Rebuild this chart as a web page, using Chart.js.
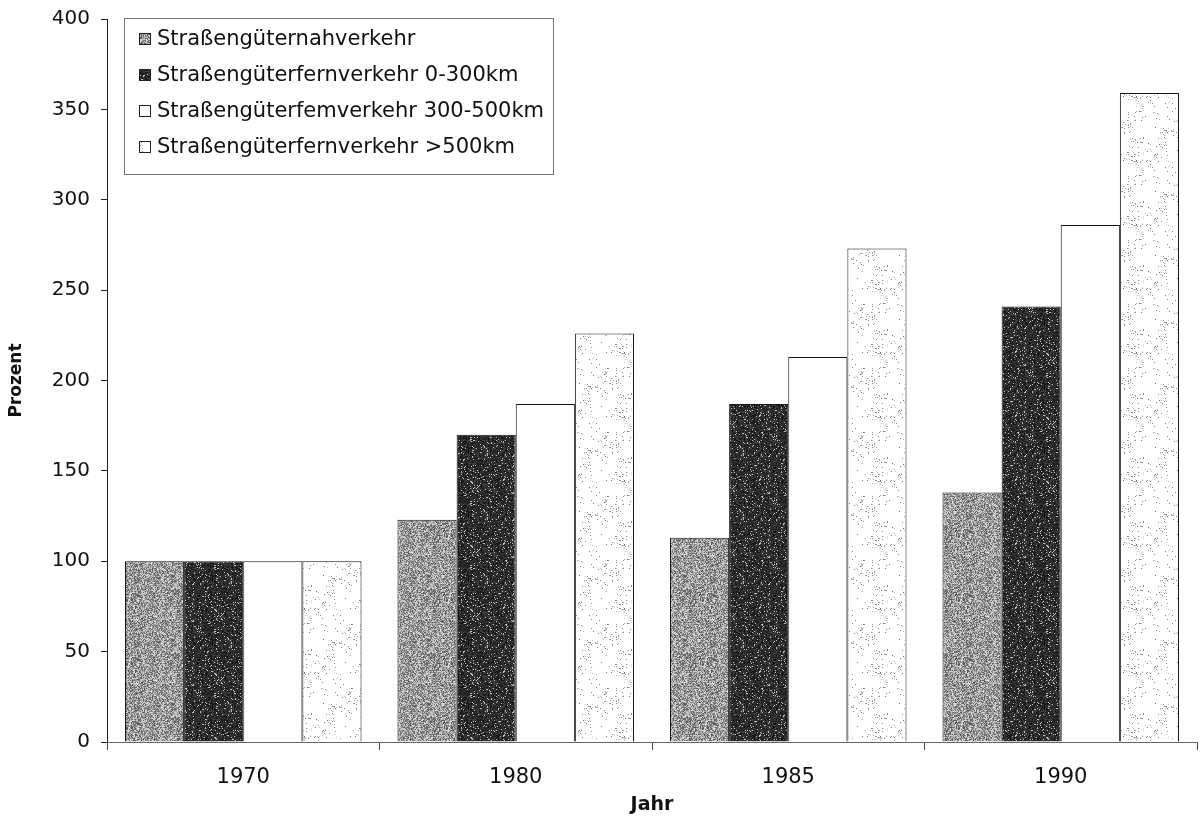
<!DOCTYPE html>
<html lang="de">
<head>
<meta charset="utf-8">
<title>Straßengüterverkehr 1970–1990</title>
<script src="https://cdn.jsdelivr.net/npm/chart.js@4.4.1/dist/chart.umd.min.js"></script>
<style>
  html, body { margin: 0; padding: 0; background: #fff; }
  #wrap { width: 1204px; height: 821px; position: relative; }
</style>
</head>
<body>
<div id="wrap"><canvas id="grafica"></canvas></div>
<script>
// Index 1970 = 100
const jahre = ['1970', '1980', '1985', '1990'];
const nahverkehr = [100, 123, 113, 138];
const fern0bis300 = [100, 170, 187, 241];
const fern300bis500 = [100, 187, 213, 286];
const fernUeber500 = [100, 226, 273, 359];
const serienNamen = [
    'Straßengüternahverkehr',
    'Straßengüterfernverkehr 0-300km',
    'Straßengüterfemverkehr 300-500km',
    'Straßengüterfernverkehr >500km'
];

const schrift = '"DejaVu Sans", Arial, sans-serif';

// deterministisches Rauschen fuer die Rasterflaechen
function rauschen(x, y, seed) {
    const s = Math.sin(x * 12.9898 + y * 78.233 + seed * 37.719) * 43758.5453;
    return s - Math.floor(s);
}

function muster(art, seed) {
    const c = document.createElement('canvas');
    c.width = c.height = 64;
    const ctx = c.getContext('2d');
    const img = ctx.createImageData(64, 64);
    for (let y = 0; y < 64; y++) {
        for (let x = 0; x < 64; x++) {
            const r = rauschen(x, y, seed);
            let v;
            if (art === 'grau') {
                v = 155 + (r - 0.5) * 150;
            } else if (art === 'dunkel') {
                v = r > 0.92 ? 190 : 45 + (r - 0.5) * 60;
            } else {
                // helles Feld mit grauen Sprenkeln in Nestern
                const klumpen = rauschen(Math.floor(x / 8), Math.floor(y / 8), seed + 3);
                const dichte = klumpen > 0.55 ? (klumpen - 0.55) * 0.5 : 0.01;
                v = r < dichte ? Math.min(255, 120 + r * 800) : 255;
            }
            const i = (y * 64 + x) * 4;
            img.data[i] = img.data[i + 1] = img.data[i + 2] = v;
            img.data[i + 3] = 255;
        }
    }
    ctx.putImageData(img, 0, 0);
    return ctx.createPattern(c, 'repeat');
}

const fuellungen = [muster('grau', 1), muster('dunkel', 2), '#ffffff', muster('hell', 4)];

// Legende als Kasten oben links im Diagrammfeld
const legendeImFeld = {
    id: 'legendeImFeld',
    afterDraw(chart) {
        const ctx = chart.ctx;
        const x0 = chart.chartArea.left + 17;
        const y0 = chart.chartArea.top - 1;
        const breite = 429, hoehe = 156;
        ctx.save();
        ctx.strokeStyle = '#777';
        ctx.lineWidth = 1;
        ctx.strokeRect(x0 + 0.5, y0 + 0.5, breite, hoehe);
        ctx.font = '21px ' + schrift;
        ctx.textBaseline = 'middle';
        chart.data.datasets.forEach((ds, i) => {
            const ym = y0 + 21 + i * 36;
            ctx.fillStyle = ds.backgroundColor;
            ctx.fillRect(x0 + 15, ym - 6, 12, 12);
            ctx.strokeStyle = '#222';
            ctx.strokeRect(x0 + 15.5, ym - 5.5, 11, 11);
            ctx.fillStyle = '#111';
            ctx.fillText(ds.label, x0 + 33, ym + 1);
        });
        ctx.restore();
    }
};

const reihen = [nahverkehr, fern0bis300, fern300bis500, fernUeber500];

const $grafica = document.querySelector('#grafica');
new Chart($grafica, {
    type: 'bar',
    data: {
        labels: jahre,
        datasets: reihen.map((werte, i) => ({
            label: serienNamen[i],
            data: werte,
            backgroundColor: fuellungen[i],
            borderColor: '#151515',
            borderWidth: 1,
            borderSkipped: 'bottom'
        }))
    },
    options: {
        responsive: true,
        maintainAspectRatio: false,
        animation: false,
        layout: { padding: { top: 19, right: 7, left: 0, bottom: 0 } },
        plugins: {
            legend: { display: false },
            tooltip: { enabled: false }
        },
        datasets: {
            bar: { categoryPercentage: 0.868, barPercentage: 1 }
        },
        scales: {
            x: {
                afterFit: scale => { scale.height = 79; },
                grid: {
                    offset: true,
                    drawOnChartArea: false,
                    drawTicks: true,
                    tickLength: 8,
                    color: '#444'
                },
                border: { display: true, color: '#666', width: 1 },
                ticks: {
                    padding: 15,
                    color: '#111',
                    font: { family: schrift, size: 21 }
                },
                title: {
                    display: true,
                    text: 'Jahr',
                    color: '#111',
                    font: { family: schrift, size: 19, weight: 'bold' },
                    padding: { top: 0, bottom: 5 }
                }
            },
            y: {
                min: 0,
                max: 400,
                afterFit: scale => {
                    scale.width = 107;
                    scale.paddingTop = 0;
                },
                grid: {
                    drawOnChartArea: false,
                    drawTicks: true,
                    tickLength: 6,
                    color: '#222'
                },
                border: { display: true, color: '#222', width: 1 },
                ticks: {
                    stepSize: 50,
                    padding: 11,
                    color: '#111',
                    font: { family: schrift, size: 20 }
                },
                title: {
                    display: true,
                    text: 'Prozent',
                    color: '#111',
                    font: { family: schrift, size: 17, weight: 'bold' },
                    padding: { top: 6, bottom: 0 }
                }
            }
        }
    },
    plugins: [legendeImFeld]
});
</script>
</body>
</html>
